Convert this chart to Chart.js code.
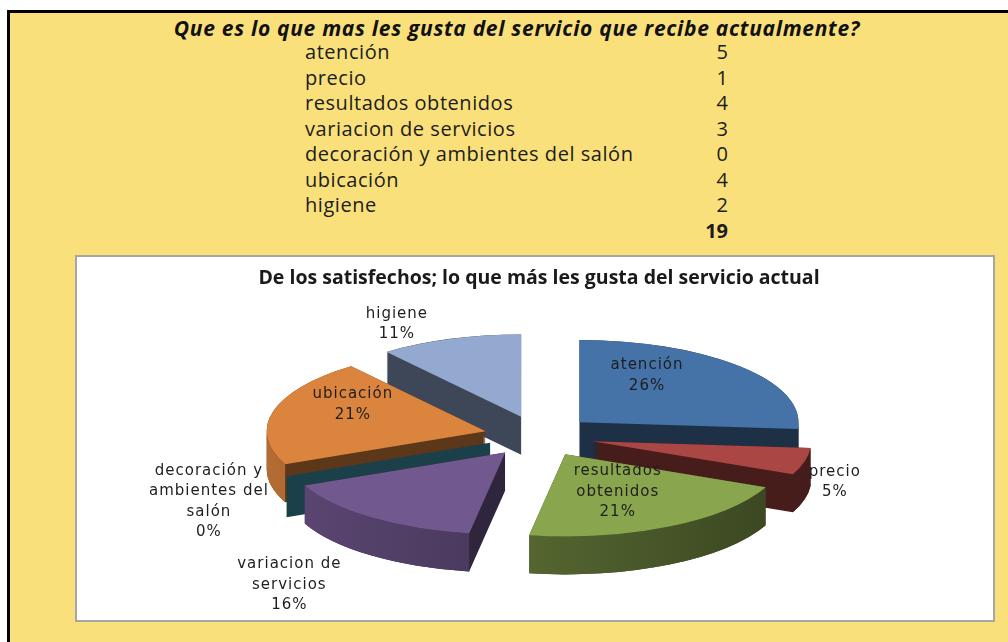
<!DOCTYPE html>
<html>
<head>
<meta charset="utf-8">
<script src="https://cdn.jsdelivr.net/npm/chart.js@4.4.1/dist/chart.umd.min.js"></script>
<style>
  body { margin: 0; width: 1008px; height: 642px; overflow: hidden; background: #fff; position: relative; font-family: 'Open Sans', sans-serif; }
  #hoja { position: absolute; left: 7px; top: 10px; width: 1010px; height: 640px; background: #F9E07A; border-top: 3px solid #000; border-left: 3px solid #000; }
  #pregunta { position: absolute; left: 0; width: 1034px; top: 14px; line-height: 28px; text-align: center; font: italic bold 21px 'Open Sans', sans-serif; letter-spacing: 0.7px; color: #111; }
  .fila { position: absolute; font-size: 20px; letter-spacing: 0.55px; line-height: 26px; color: #1c1c1c; white-space: nowrap; }
  .valor { width: 100px; text-align: right; letter-spacing: 0; }
  #marco { position: absolute; left: 75px; top: 255px; width: 916px; height: 363px; border: 2px solid #a6a6a6; background: #fff; }
</style>
</head>
<body>
<div id="hoja"></div>
<div id="pregunta">Que es lo que mas les gusta del servicio que recibe actualmente?</div>
<div id="tabla"></div>
<div id="marco"><canvas id="grafico" width="916" height="363"></canvas></div>

<script>
// datos de la encuesta
const categorias = ['atención', 'precio', 'resultados obtenidos', 'variacion de servicios',
    'decoración y ambientes del salón', 'ubicación', 'higiene'];
const respuestas = [5, 1, 4, 3, 0, 4, 2];
// nombres como salen en el grafico (con saltos de linea)
const nombresGrafico = [['atención'], ['precio'], ['resultados', 'obtenidos'], ['variacion de', 'servicios'],
    ['decoración y', 'ambientes del', 'salón'], ['ubicación'], ['higiene']];
const colores = ['#4572A7', '#AA4643', '#89A54E', '#71588F', '#4198AF', '#DB843D', '#93A9CF'];

const total = respuestas.reduce((a, b) => a + b, 0);

// tabla de arriba
const tabla = document.getElementById('tabla');
categorias.forEach(function (cat, i) {
    const y = 52 + i * 25.5 - 13;
    tabla.insertAdjacentHTML('beforeend',
        '<div class="fila" style="left:305px;top:' + y + 'px">' + cat + '</div>' +
        '<div class="fila valor" style="left:628px;top:' + y + 'px">' + respuestas[i] + '</div>');
});
tabla.insertAdjacentHTML('beforeend',
    '<div class="fila valor" style="left:628px;top:' + (52 + 7 * 25.5 - 13) + 'px;font-weight:bold">' + total + '</div>');

// pastel 3D
const K = 0.375;       // aplastado vertical
const EXPLOTA = 55;    // separacion de las porciones
const FONDO = 38;      // grosor
const RADIO = 219;
// [factor radial, dx, dy] para cada etiqueta
const posEtiquetas = [[0.5, -13, -19], [1.1, 9, 18.5], [0.6, -10, -6], [1.3, -41, 48],
    [1.3, -19, 14], [0.6, -5.5, -14.5], [1.1, -46, -7]];

function sombra(hex, f) {
    const n = parseInt(hex.slice(1), 16);
    return 'rgb(' + Math.round((n >> 16 & 255) * f) + ',' + Math.round((n >> 8 & 255) * f) + ',' + Math.round((n & 255) * f) + ')';
}

const pie3d = {
    id: 'pie3d',
    beforeDatasetsDraw(chart) {
        const ctx = chart.ctx;
        const arcs = chart.getDatasetMeta(0).data;
        const cx = arcs[0].x, cy = arcs[0].y;
        const izq = cx - RADIO - EXPLOTA, der = cx + RADIO + EXPLOTA;

        const partes = arcs.map(function (a, i) {
            const mid = (a.startAngle + a.endAngle) / 2;
            return { a: a, i: i, ax: cx + EXPLOTA * Math.cos(mid), ay: cy + EXPLOTA * Math.sin(mid) * K, oy: Math.sin(mid) };
        });

        // paredes laterales, de atras hacia adelante
        partes.slice().sort((p, q) => p.oy - q.oy).forEach(function (p) {
            const a = p.a, col = colores[p.i];
            const r = a.outerRadius;
            ctx.save();
            ctx.fillStyle = sombra(col, 0.42);
            ctx.beginPath();
            if (a.endAngle - a.startAngle < 0.001) {
                const ex = p.ax + r * Math.cos(a.startAngle), ey = p.ay + r * K * Math.sin(a.startAngle);
                ctx.moveTo(p.ax, p.ay);
                ctx.lineTo(ex, ey);
                ctx.lineTo(ex, ey + FONDO);
                ctx.lineTo(p.ax, p.ay + FONDO);
                ctx.closePath();
                ctx.fill();
                ctx.lineWidth = 3;
                ctx.strokeStyle = ctx.fillStyle;
                ctx.stroke();
            } else {
                for (let d = FONDO; d >= 0; d -= 1) {
                    ctx.moveTo(p.ax, p.ay + d);
                    ctx.ellipse(p.ax, p.ay + d, r, r * K, 0, a.startAngle, a.endAngle);
                    ctx.closePath();
                }
                ctx.fill();
                // pared curva de enfrente
                const TAU = Math.PI * 2;
                for (let vuelta = 0; vuelta <= 1; vuelta++) {
                    const s = Math.max(a.startAngle, vuelta * TAU), e = Math.min(a.endAngle, vuelta * TAU + Math.PI);
                    if (e - s > 0.001) {
                        const g = ctx.createLinearGradient(izq, 0, der, 0);
                        g.addColorStop(0, sombra(col, 0.82));
                        g.addColorStop(1, sombra(col, 0.4));
                        ctx.fillStyle = g;
                        ctx.beginPath();
                        ctx.ellipse(p.ax, p.ay, r, r * K, 0, s, e);
                        ctx.ellipse(p.ax, p.ay + FONDO, r, r * K, 0, e, s, true);
                        ctx.closePath();
                        ctx.fill();
                    }
                }
            }
            ctx.restore();
        });

        // caras de arriba, dibujadas por los arcos de Chart.js
        partes.forEach(function (p) {
            ctx.save();
            ctx.translate(p.ax, p.ay);
            ctx.scale(1, K);
            ctx.translate(-cx, -cy);
            p.a.draw(ctx);
            ctx.restore();
        });
        return false;
    },
    afterDraw(chart) {
        const ctx = chart.ctx;
        const arcs = chart.getDatasetMeta(0).data;
        const cx = arcs[0].x, cy = arcs[0].y;
        ctx.save();
        ctx.font = '15px "DejaVu Sans"';
        ctx.letterSpacing = '1px';
        ctx.fillStyle = '#1e1e1e';
        ctx.textAlign = 'center';
        ctx.textBaseline = 'middle';
        arcs.forEach(function (a, i) {
            const mid = (a.startAngle + a.endAngle) / 2;
            const [f, dx, dy] = posEtiquetas[i];
            const x = cx + (EXPLOTA + a.outerRadius * f) * Math.cos(mid) + dx;
            const y = cy + (EXPLOTA + a.outerRadius * f) * Math.sin(mid) * K + dy;
            const lineas = nombresGrafico[i].concat([Math.round(respuestas[i] / total * 100) + '%']);
            lineas.forEach(function (t, j) {
                ctx.fillText(t, x, y + (j - (lineas.length - 1) / 2) * 20.5);
            });
        });
        ctx.restore();
    }
};

new Chart(document.getElementById('grafico'), {
    type: 'pie',
    data: {
        labels: categorias,
        datasets: [{
            data: respuestas,
            backgroundColor: colores,
            borderWidth: 0,
            clip: false,
        }]
    },
    options: {
        responsive: false,
        animation: false,
        events: [],
        radius: RADIO,
        layout: { padding: { left: 8, right: 0, top: 0, bottom: 48 } },
        plugins: {
            legend: { display: false },
            tooltip: { enabled: false },
            title: {
                display: true,
                text: 'De los satisfechos; lo que más les gusta del servicio actual',
                color: '#1a1a1a',
                font: { family: 'Open Sans', size: 19.5, weight: 'bold' },
                padding: { top: 10, bottom: 10 }
            }
        }
    },
    plugins: [pie3d]
});
</script>
</body>
</html>
